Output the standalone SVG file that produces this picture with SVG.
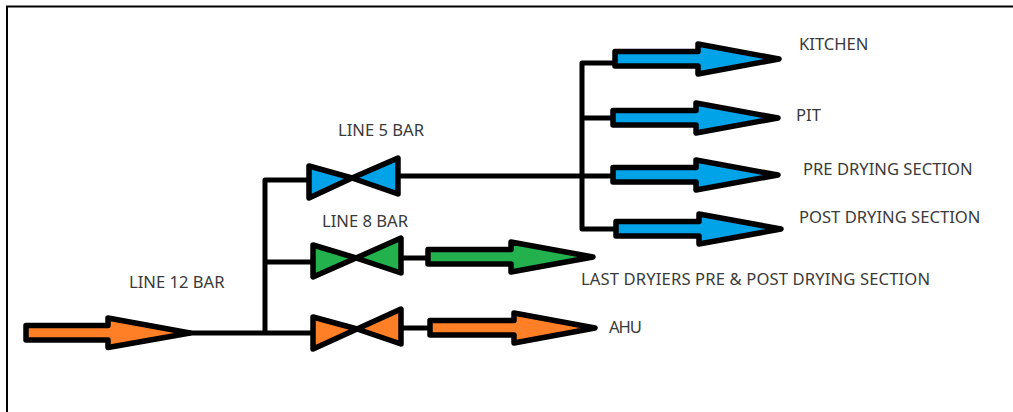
<svg xmlns="http://www.w3.org/2000/svg" width="1013" height="412" viewBox="0 0 1013 412">
<style>
.ln{fill:none;stroke:#000;stroke-width:5;stroke-linejoin:round;stroke-linecap:round}
.sh{stroke:#000;stroke-width:5.500;stroke-linejoin:round}
.o{fill:#ff7f27}.b{fill:#00a2e8}.g{fill:#22b14c}
text{font-family:"Noto Sans","DejaVu Sans",sans-serif;font-size:16.6px;fill:#3a3a3a}
</style>
<rect width="1013" height="412" fill="#fff"/>
<path d="M7 412V6.500H1013" fill="none" stroke="#000" stroke-width="2"/>
<g id="connectors">
<path class="ln" d="M190 333H312M265 333V180H309M265 262H312M398 176H615M582 63V229M582 63H615M582 118H613M582 229H616M402 258H428M402 328H429"/>
</g>
<g id="source-12bar"><path class="sh o" d="M26 325.500H108V318L190 333L108 347.500V340H26Z"/><text x="129" y="288">LINE 12 BAR</text></g>
<g id="valve-5bar"><path class="sh b" d="M309 166L352 178L309 198ZM398 158V194L352 178Z"/><text x="338" y="136">LINE 5 BAR</text></g>
<g id="valve-8bar"><path class="sh g" d="M313 245L356 258L313 277ZM401 238V273L356 258Z"/><text x="322" y="227">LINE 8 BAR</text></g>
<g id="valve-ahu"><path class="sh o" d="M313 317L357 329L313 349ZM401 309V344L357 329Z"/></g>
<g id="kitchen"><path class="sh b" d="M615 51.500H698V44L779 59L698 74V66H615Z"/><text x="799" y="50">KITCHEN</text></g>
<g id="pit"><path class="sh b" d="M613 110.500H696V103L778 118L696 133V125H613Z"/><text x="796" y="121">PIT</text></g>
<g id="pre-drying"><path class="sh b" d="M613 167.500H696V160L778 175L696 190V182H613Z"/><text x="803" y="175">PRE DRYING SECTION</text></g>
<g id="post-drying"><path class="sh b" d="M616 221.500H699V214L781 229L699 244V236H616Z"/><text x="799" y="223">POST DRYING SECTION</text></g>
<g id="last-dryiers"><path class="sh g" d="M428 249.500H511V242L593 257L511 272V264H428Z"/><text x="581" y="285" textLength="349">LAST DRYIERS PRE &amp; POST DRYING SECTION</text></g>
<g id="ahu"><path class="sh o" d="M430 320.500H514V313L595 328L514 343V335H430Z"/><text x="609" y="333" textLength="33">AHU</text></g>
</svg>
